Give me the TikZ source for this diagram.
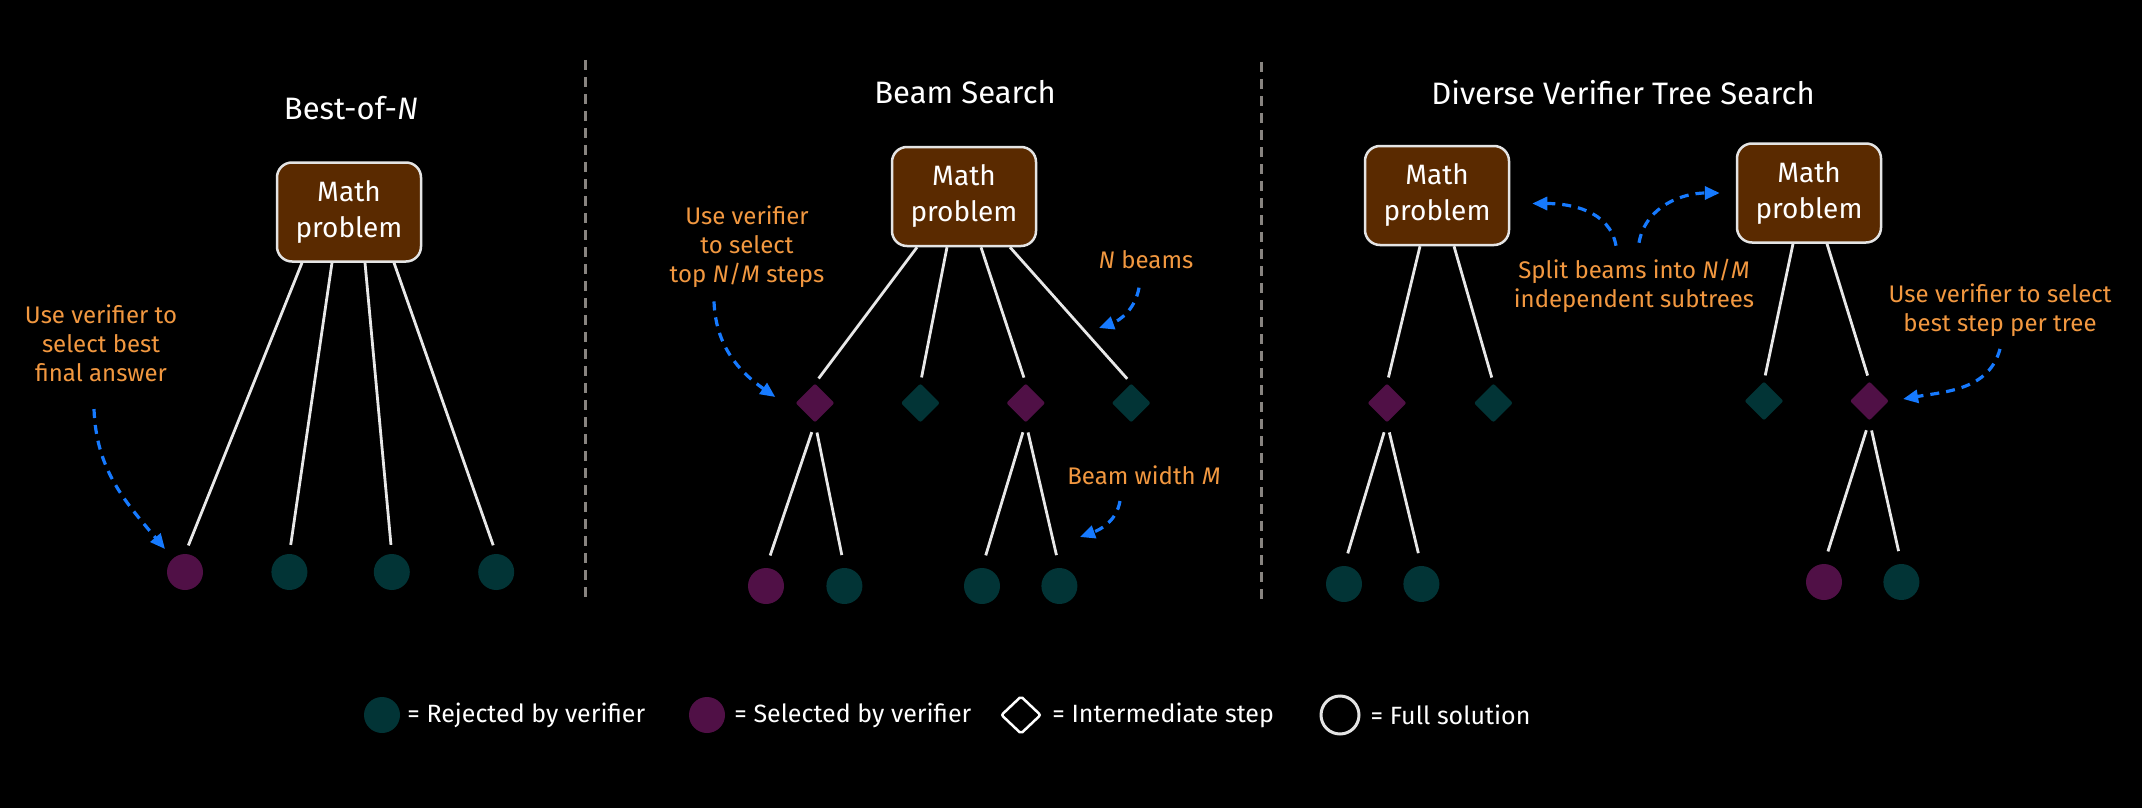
\documentclass[tikz,border=0pt]{standalone}
\usepackage{fontspec}
\setmainfont{Fira Sans}
\usetikzlibrary{positioning,shapes.geometric,arrows.meta}
\definecolor{probfill}{RGB}{90,42,0}
\definecolor{probline}{RGB}{228,228,228}
\definecolor{rejcol}{RGB}{2,52,54}
\definecolor{selcol}{RGB}{80,16,70}
\definecolor{notecol}{RGB}{242,152,64}
\definecolor{hintcol}{RGB}{22,122,255}
\definecolor{sepcol}{RGB}{136,132,128}
\definecolor{branchcol}{RGB}{232,232,232}

\begin{document}
\begin{tikzpicture}
[x=1pt,y=1pt,
 problem/.style={draw=probline,line width=2.5pt,fill=probfill,rounded corners=15pt,
   minimum width=144pt,minimum height=99pt,align=center,text=white,
   font=\fontsize{28}{36}\selectfont},
 stepbox/.style={diamond,inner sep=0pt,minimum width=39pt,minimum height=39pt,rounded corners=2pt},
 leaf/.style={circle,inner sep=0pt,minimum size=36pt},
 rej/.style={fill=rejcol},
 sel/.style={fill=selcol},
 heading/.style={text=white,font=\fontsize{31}{36}\selectfont},
 note/.style={text=notecol,align=center,font=\fontsize{24}{29}\selectfont},
 legtext/.style={text=white,font=\fontsize{25}{28}\selectfont,inner sep=0pt},
 branch/.style={draw=branchcol,line width=2.8pt},
 hint/.style={draw=hintcol,line width=3.2pt,dash pattern=on 9pt off 7pt,
   -{Triangle[length=15pt,width=13pt]}},
 divider/.style={draw=sepcol,line width=3pt,dash pattern=on 10pt off 7pt}]
\fill[black] (0,0) rectangle (2142,-808);
\useasboundingbox (0,0) rectangle (2142,-808);
\draw[divider] (585,-60) -- (585,-600);
\draw[divider] (1261,-62) -- (1261,-600);
% Best-of-N
\node[heading] (bt) at (351,-108) {Best-of-\textit{N}};
\node[problem] (bp) at (349,-212) {Math\\problem};
\node[leaf,sel] (b1) at (185,-572) {};
\node[leaf,rej,right=68pt of b1] (b2) {};
\node[leaf,rej,right=66pt of b2] (b3) {};
\node[leaf,rej,right=68pt of b3] (b4) {};
\path[branch,shorten >=9pt] ([xshift=-47pt]bp.south) edge (b1.north)
  ([xshift=-17pt]bp.south) edge (b2.north) ([xshift=16pt]bp.south) edge (b3.north)
  ([xshift=45pt]bp.south) edge (b4.north);
\node[note] (bn) at (101,-343) {Use verifier to\\select best\\final answer};
\draw[hint] ([xshift=-7pt,yshift=-24pt]bn.south) to[out=-88,in=130] ([xshift=-20pt,yshift=23pt]b1.center);
% Beam search
\node[heading] (st) at (965,-92) {Beam Search};
\node[problem] (sp) at (964,-196.5) {Math\\problem};
\node[stepbox,sel] (s1) at (815,-403) {};
\node[stepbox,rej,right=66pt of s1] (s2) {};
\node[stepbox,sel,right=66pt of s2] (s3) {};
\node[stepbox,rej,right=66pt of s3] (s4) {};
\node[leaf,sel] (c1) at (766,-586) {};
\node[leaf,rej,right=42pt of c1] (c2) {};
\node[leaf,rej] (c3) at (982,-586) {};
\node[leaf,rej,right=41pt of c3] (c4) {};
\path[branch,shorten >=6pt] ([xshift=-47pt]sp.south) edge (s1.north)
  ([xshift=-17pt]sp.south) edge (s2.north) ([xshift=17pt]sp.south) edge (s3.north)
  ([xshift=46pt]sp.south) edge (s4.north);
\path[branch,shorten <=10pt,shorten >=13pt] (s1.south) edge (c1.north) (s1.south) edge (c2.north)
  (s3.south) edge (c3.north) (s3.south) edge (c4.north);
\node[note] (sn1) at (747,-247) {Use verifier\\to select\\top \textit{N}/\textit{M} steps};
\node[note] (sn2) at (1146,-260) {\textit{N} beams};
\node[note] (sn3) at (1144,-475) {Beam width \textit{M}};
\coordinate (beamtip) at (1099,-328);
\coordinate (widthtip) at (1080,-537);
\draw[hint] ([xshift=-33pt,yshift=-10pt]sn1.south) to[out=-88,in=145] ([xshift=-20pt,yshift=6pt]s1.west);
\draw[hint] ([xshift=-7pt,yshift=-15pt]sn2.south) to[out=-100,in=20] (beamtip);
\draw[hint] ([xshift=-24pt,yshift=-13pt]sn3.south) to[out=-100,in=20] (widthtip);
% Diverse verifier tree search
\node[heading] (dt) at (1623,-93) {Diverse Verifier Tree Search};
\node[problem] (dp1) at (1437,-195.5) {Math\\problem};
\node[problem] (dp2) at (1809,-193) {Math\\problem};
\node[stepbox,sel] (d1) at (1387,-403) {};
\node[stepbox,rej,right=67pt of d1] (d2) {};
\node[stepbox,rej] (d3) at (1764,-401) {};
\node[stepbox,sel,right=66pt of d3] (d4) {};
\node[leaf,rej] (e1) at (1344,-584) {};
\node[leaf,rej,right=41pt of e1] (e2) {};
\node[leaf,sel] (e3) at (1824,-582) {};
\node[leaf,rej,right=41pt of e3] (e4) {};
\path[branch,shorten >=6pt] ([xshift=-17pt]dp1.south) edge (d1.north)
  ([xshift=17pt]dp1.south) edge (d2.north) ([xshift=-16pt]dp2.south) edge (d3.north)
  ([xshift=18pt]dp2.south) edge (d4.north);
\path[branch,shorten <=10pt,shorten >=13pt] (d1.south) edge (e1.north) (d1.south) edge (e2.north)
  (d4.south) edge (e3.north) (d4.south) edge (e4.north);
\node[note] (dn1) at (1634,-286) {Split beams into \textit{N}/\textit{M}\\independent subtrees};
\node[note] (dn2) at (2000,-310) {Use verifier to select\\best step per tree};
\draw[hint] ([xshift=-18pt,yshift=10pt]dn1.north) to[out=100,in=0] ([xshift=22pt,yshift=-8pt]dp1.east);
\draw[hint] ([xshift=5pt,yshift=13pt]dn1.north) to[out=80,in=180] ([xshift=-16pt]dp2.west);
\draw[hint] ([yshift=-9pt]dn2.south) to[out=-105,in=10] ([xshift=14pt,yshift=2pt]d4.east);
% legend
\node[leaf,rej] (k1) at (382,-715) {};
\node[legtext,right=7pt of k1] (k1t) {= Rejected by verifier};
\node[leaf,sel] (k2) at (707,-715) {};
\node[legtext,right=9pt of k2] (k2t) {= Selected by verifier};
\node[stepbox,draw=white,line width=2.5pt,minimum width=40pt,minimum height=38pt] (k3) at (1021,-715) {};
\node[legtext,right=10pt of k3] (k3t) {= Intermediate step};
\node[leaf,draw=probline,line width=3pt,minimum size=38pt] (k4) at (1340,-715) {};
\node[legtext,right=10pt of k4] (k4t) {= Full solution};
\end{tikzpicture}
\end{document}
